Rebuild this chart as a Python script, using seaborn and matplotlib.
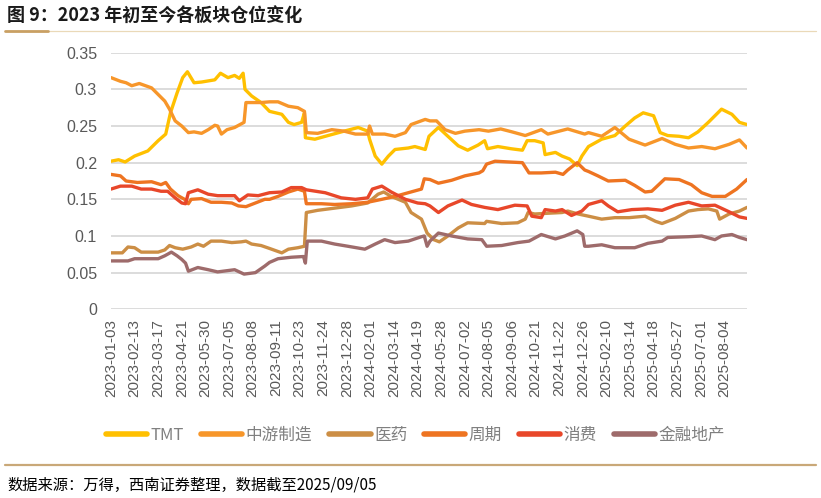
import numpy as np
import pandas as pd
import seaborn as sns
import matplotlib.pyplot as plt
from matplotlib.lines import Line2D
from matplotlib.font_manager import FontProperties

# Sector positions (fund holdings ratio), trading-day index since 2023-01-03
sectors = ['TMT', '中游制造', '医药', '周期', '消费', '金融地产']
colors = ['#FFC000', '#F7962A', '#CC8E45', '#EE7421', '#E8472A', '#9E6B6B']

tick_labels = ['2023-01-03', '2023-02-13', '2023-03-17', '2023-04-21', '2023-05-30',
               '2023-07-05', '2023-08-08', '2023-09-11', '2023-10-23', '2023-11-24',
               '2023-12-28', '2024-02-01', '2024-03-14', '2024-04-19', '2024-05-28',
               '2024-07-02', '2024-08-05', '2024-09-06', '2024-10-21', '2024-11-22',
               '2024-12-26', '2025-02-10', '2025-03-14', '2025-04-18', '2025-05-27',
               '2025-07-01', '2025-08-04']
n_days = 675

tmt_day = [0, 8, 15, 25, 39, 50, 58, 63, 70, 76, 81, 88, 96, 110, 116, 124, 131, 136, 140, 142,
           149, 159, 168, 181, 188, 194, 202, 205, 206, 216, 230, 247, 262, 272, 274, 280, 287, 294, 301, 315,
           322, 333, 337, 347, 357, 368, 378, 389, 396, 399, 410, 424, 436, 441, 449, 458, 460, 471, 478, 486,
           494, 499, 506, 520, 534, 545, 555, 564, 575, 582, 590, 602, 612, 622, 633, 640, 647, 658, 666, 674]
tmt_val = [0.202, 0.204, 0.201, 0.209, 0.216, 0.23, 0.239, 0.268, 0.295, 0.316, 0.324, 0.309, 0.31, 0.313,
           0.322, 0.316, 0.319, 0.315, 0.322, 0.3, 0.291, 0.282, 0.27, 0.266, 0.255, 0.252, 0.255, 0.268,
           0.234, 0.232, 0.237, 0.243, 0.248, 0.243, 0.232, 0.209, 0.198, 0.209, 0.218, 0.22, 0.222, 0.218,
           0.236, 0.248, 0.236, 0.223, 0.217, 0.224, 0.23, 0.219, 0.222, 0.219, 0.217, 0.23, 0.23, 0.227,
           0.211, 0.214, 0.209, 0.205, 0.196, 0.209, 0.222, 0.232, 0.237, 0.25, 0.261, 0.268, 0.264, 0.241,
           0.237, 0.236, 0.234, 0.242, 0.255, 0.264, 0.273, 0.266, 0.255, 0.252]

mid_day = [0, 10, 16, 22, 30, 43, 50, 57, 62, 68, 75, 82, 88, 96, 103, 110, 113, 117, 123, 131,
           141, 143, 159, 168, 177, 188, 198, 205, 207, 219, 234, 247, 259, 272, 274, 277, 290, 301, 312, 318,
           333, 338, 345, 354, 365, 375, 390, 400, 413, 425, 439, 456, 463, 484, 502, 506, 520, 534, 549, 566,
           584, 598, 612, 626, 640, 655, 666, 674]
mid_val = [0.316, 0.311, 0.309, 0.305, 0.308, 0.302, 0.293, 0.284, 0.273, 0.257, 0.25, 0.241, 0.242, 0.24,
           0.245, 0.251, 0.25, 0.239, 0.245, 0.248, 0.255, 0.282, 0.282, 0.283, 0.283, 0.277, 0.275, 0.27,
           0.241, 0.24, 0.245, 0.243, 0.239, 0.239, 0.25, 0.239, 0.239, 0.236, 0.241, 0.252, 0.259, 0.257,
           0.257, 0.245, 0.24, 0.243, 0.245, 0.243, 0.246, 0.242, 0.237, 0.245, 0.239, 0.246, 0.239, 0.241,
           0.236, 0.248, 0.232, 0.224, 0.233, 0.225, 0.22, 0.222, 0.219, 0.225, 0.231, 0.22]

med_day = [0, 12, 18, 25, 32, 50, 57, 62, 68, 76, 85, 92, 98, 106, 117, 128, 138, 143, 149, 159,
           168, 181, 188, 198, 205, 207, 219, 237, 255, 272, 283, 289, 297, 312, 318, 329, 335, 342, 348, 357,
           368, 378, 396, 398, 414, 431, 439, 442, 449, 463, 478, 484, 495, 506, 520, 534, 549, 566, 577, 584,
           598, 612, 622, 633, 642, 645, 655, 666, 674]
med_val = [0.077, 0.077, 0.085, 0.084, 0.078, 0.078, 0.081, 0.087, 0.084, 0.082, 0.085, 0.089, 0.086, 0.093,
           0.093, 0.091, 0.092, 0.093, 0.089, 0.087, 0.083, 0.077, 0.082, 0.084, 0.086, 0.132, 0.135, 0.138,
           0.141, 0.145, 0.157, 0.16, 0.154, 0.146, 0.132, 0.123, 0.104, 0.095, 0.092, 0.1, 0.111, 0.118,
           0.117, 0.12, 0.117, 0.118, 0.123, 0.132, 0.13, 0.131, 0.132, 0.134, 0.13, 0.127, 0.123, 0.125,
           0.125, 0.127, 0.12, 0.117, 0.124, 0.134, 0.136, 0.137, 0.134, 0.123, 0.13, 0.134, 0.139]

cyc_day = [0, 10, 16, 28, 43, 53, 58, 63, 71, 78, 82, 85, 96, 106, 117, 128, 135, 143, 153, 163,
           168, 177, 188, 198, 205, 207, 223, 237, 255, 272, 287, 301, 315, 329, 332, 338, 347, 361, 375, 390,
           394, 398, 407, 421, 436, 443, 456, 471, 479, 484, 494, 502, 506, 516, 527, 545, 555, 566, 573, 587,
           602, 615, 626, 637, 651, 663, 674]
cyc_val = [0.184, 0.182, 0.175, 0.173, 0.174, 0.17, 0.173, 0.164, 0.155, 0.15, 0.144, 0.15, 0.151, 0.146,
           0.146, 0.145, 0.141, 0.14, 0.145, 0.15, 0.15, 0.154, 0.16, 0.164, 0.161, 0.144, 0.144, 0.143,
           0.144, 0.146, 0.15, 0.154, 0.159, 0.164, 0.178, 0.177, 0.172, 0.176, 0.182, 0.186, 0.189, 0.198,
           0.202, 0.201, 0.2, 0.186, 0.186, 0.187, 0.184, 0.19, 0.2, 0.19, 0.188, 0.182, 0.175, 0.176,
           0.169, 0.16, 0.161, 0.178, 0.177, 0.17, 0.159, 0.154, 0.154, 0.164, 0.177]

con_day = [0, 10, 22, 32, 43, 53, 60, 68, 75, 79, 82, 92, 103, 113, 131, 136, 145, 156, 168, 181,
           191, 202, 207, 227, 244, 259, 272, 277, 287, 297, 312, 325, 333, 338, 347, 357, 372, 382, 396, 410,
           428, 441, 446, 456, 460, 471, 478, 488, 499, 506, 520, 527, 537, 552, 569, 584, 598, 612, 626, 640,
           655, 666, 674]
con_val = [0.164, 0.168, 0.168, 0.164, 0.164, 0.161, 0.161, 0.152, 0.145, 0.144, 0.159, 0.163, 0.157, 0.155,
           0.155, 0.148, 0.156, 0.155, 0.159, 0.16, 0.166, 0.166, 0.163, 0.159, 0.152, 0.15, 0.152, 0.164,
           0.168, 0.16, 0.15, 0.145, 0.144, 0.141, 0.132, 0.141, 0.149, 0.143, 0.139, 0.136, 0.142, 0.141,
           0.127, 0.125, 0.136, 0.134, 0.136, 0.128, 0.134, 0.143, 0.148, 0.141, 0.133, 0.136, 0.137, 0.135,
           0.142, 0.146, 0.141, 0.142, 0.133, 0.126, 0.124]

fin_day = [0, 18, 25, 50, 57, 64, 70, 75, 79, 82, 92, 103, 113, 131, 141, 153, 163, 168, 177, 191,
           204, 206, 208, 223, 237, 251, 269, 280, 290, 301, 315, 329, 332, 335, 338, 347, 361, 378, 393, 398,
           414, 431, 443, 456, 471, 481, 494, 500, 502, 506, 520, 534, 555, 569, 584, 590, 612, 626, 640, 647,
           658, 666, 674]
fin_val = [0.066, 0.066, 0.069, 0.069, 0.073, 0.078, 0.073, 0.068, 0.063, 0.052, 0.057, 0.054, 0.051, 0.054,
           0.048, 0.05, 0.059, 0.064, 0.069, 0.071, 0.072, 0.063, 0.093, 0.093, 0.089, 0.086, 0.082, 0.089,
           0.095, 0.091, 0.093, 0.099, 0.1, 0.086, 0.093, 0.104, 0.1, 0.096, 0.095, 0.086, 0.087, 0.091,
           0.093, 0.102, 0.096, 0.1, 0.107, 0.102, 0.086, 0.086, 0.088, 0.084, 0.084, 0.09, 0.093, 0.098,
           0.099, 0.1, 0.095, 0.1, 0.102, 0.098, 0.095]

days = [tmt_day, mid_day, med_day, cyc_day, con_day, fin_day]
vals = [tmt_val, mid_val, med_val, cyc_val, con_val, fin_val]
df = pd.concat([pd.DataFrame({'day': d, 'ratio': v, 'sector': s})
                for d, v, s in zip(days, vals, sectors)], ignore_index=True)

sns.set_theme(style='white')
plt.rcParams['font.family'] = ['Liberation Sans', 'Noto Sans CJK SC', 'DejaVu Sans']
cjk = ['Noto Sans CJK SC', 'DejaVu Sans']

fig = plt.figure(figsize=(8.21, 4.98), dpi=100)
ax = fig.add_axes([111 / 821, 1 - 309.3 / 498, 636 / 821, 256.6 / 498])

sns.lineplot(data=df, x='day', y='ratio', hue='sector', hue_order=sectors,
             palette=colors, linewidth=2.4, estimator=None, legend=False, ax=ax)

ax.set_xlim(0, n_days - 1)
ax.set_ylim(0, 0.35)
yt = np.arange(0, 0.351, 0.05)
ax.set_yticks(yt)
ax.set_yticklabels(['0', '0.05', '0.1', '0.15', '0.2', '0.25', '0.3', '0.35'])
ax.set_xticks(np.arange(0, 25 * len(tick_labels), 25))
ax.set_xticklabels(tick_labels, rotation=90)
ax.set_xlabel('')
ax.set_ylabel('')
ax.yaxis.grid(True, color='#D9D9D9', linewidth=1.3)
ax.xaxis.grid(False)
for sp in ax.spines.values():
    sp.set_visible(False)
ax.tick_params(axis='both', length=0, labelcolor='#595959', labelsize=11.5)
ax.tick_params(axis='x', pad=7, labelsize=11)
ax.tick_params(axis='y', pad=10)

handles = [Line2D([], [], color=c, linewidth=4, solid_capstyle='round') for c in colors]
leg = fig.legend(handles, sectors, loc='center', bbox_to_anchor=(0.506, 1 - 435 / 498), ncol=6,
                 frameon=False, handlelength=2.5, handletextpad=0.2, columnspacing=1.0,
                 prop=FontProperties(family=cjk, size=12))
for t in leg.get_texts():
    t.set_color('#808080')

fig.text(7 / 821, 1 - 15 / 498, '图 9：2023 年初至今各板块仓位变化', fontsize=13,
         fontweight='bold', family=cjk, va='center', ha='left', color='#1a1a1a')
fig.add_artist(Line2D([0.006, 0.994], [1 - 31 / 498] * 2, transform=fig.transFigure,
                      color='#EAD9B8', linewidth=0.9))
fig.add_artist(Line2D([0.006, 0.059], [1 - 31 / 498] * 2, transform=fig.transFigure,
                      color='#C9A063', linewidth=2))
fig.add_artist(Line2D([0.006, 0.994], [1 - 465 / 498] * 2, transform=fig.transFigure,
                      color='#C9A878', linewidth=1.6))
fig.text(7 / 821, 1 - 485 / 498, '数据来源：万得，西南证券整理，数据截至2025/09/05', fontsize=11,
         family=cjk, style='italic', va='center', ha='left', color='#000000')

fig.savefig('out.png', dpi=100)
